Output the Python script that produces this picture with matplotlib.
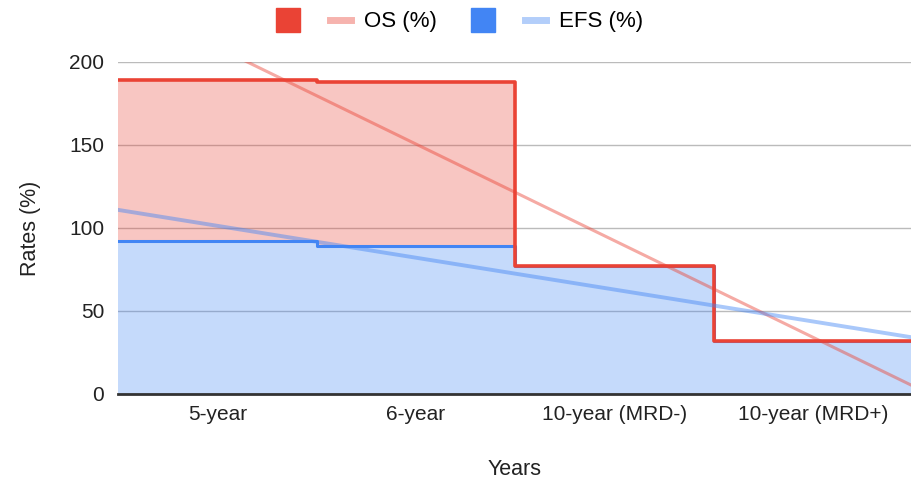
import numpy as np
import matplotlib.pyplot as plt
from matplotlib.lines import Line2D
from matplotlib.legend_handler import HandlerTuple

plt.rcParams['font.family'] = ['Liberation Sans', 'DejaVu Sans']

# data (stacked: EFS at bottom, OS on top)
categories = ['5-year', '6-year', '10-year (MRD-)', '10-year (MRD+)']
efs = [92, 89, 77, 32]
os_ = [97, 99, 0, 0]

RED = '#EA4335'
BLUE = '#4285F4'

x = np.arange(1, len(categories) + 1)
edges = np.append(x - 0.5, x[-1] + 0.5)
efs_arr = np.array(efs, dtype=float)
total = efs_arr + np.array(os_, dtype=float)

fig = plt.figure(figsize=(9.12, 4.84), dpi=100)
ax = fig.add_axes([0.1294, 0.186, 0.8706, 0.686])

# filled stepped areas
ax.stairs(efs_arr, edges, baseline=0, fill=True, color=BLUE, alpha=0.3, lw=0)
ax.stairs(total, edges, baseline=efs_arr, fill=True, color=RED, alpha=0.3, lw=0)

# step outlines
xs = np.append(edges[:-1], edges[-1])
ax.step(xs, np.append(efs_arr, efs_arr[-1]), where='post', color=BLUE, lw=2.2, zorder=3)
ax.step(xs, np.append(total, total[-1]), where='post', color=RED, lw=2.6, zorder=4)

# linear trendlines (fit over category positions)
xt = np.array([edges[0], edges[-1]])
p_os = np.polyfit(x, total, 1)
p_efs = np.polyfit(x, efs_arr, 1)
ax.plot(xt, np.polyval(p_os, xt), color=RED, alpha=0.45, lw=2.2, zorder=5)
ax.plot(xt, np.polyval(p_efs, xt), color=BLUE, alpha=0.45, lw=2.8, zorder=5)

ax.set_xlim(edges[0], edges[-1])
ax.set_ylim(0, 200)
ax.set_yticks([0, 50, 100, 150, 200])
ax.set_xticks(x)
ax.set_xticklabels(categories)
ax.tick_params(axis='both', length=0, labelsize=15, colors='#222222')
ax.tick_params(axis='y', pad=10)
ax.tick_params(axis='x', pad=8)
ax.grid(axis='y', color='#bbbbbb', lw=1)
ax.set_axisbelow(True)
for s in ['left', 'right', 'top']:
    ax.spines[s].set_visible(False)
ax.spines['bottom'].set_color('#333333')
ax.spines['bottom'].set_linewidth(2)
ax.spines['bottom'].set_zorder(6)

ax.set_xlabel('Years', fontsize=15.5, labelpad=25, color='#222222')
ax.set_ylabel('Rates (%)', fontsize=15.5, labelpad=20, color='#222222')

handles = [
    (Line2D([], [], marker='s', ls='none', color=RED, markersize=17),
     Line2D([], [], color=RED, alpha=0.4, lw=5)),
    (Line2D([], [], marker='s', ls='none', color=BLUE, markersize=17),
     Line2D([], [], color=BLUE, alpha=0.4, lw=5)),
]
fig.legend(handles, ['OS (%)', 'EFS (%)'], loc='center', bbox_to_anchor=(0.505, 0.955),
           ncol=2, frameon=False, fontsize=16, handlelength=3.3, columnspacing=1.6,
           handletextpad=0.6,
           handler_map={tuple: HandlerTuple(ndivide=None, pad=1.4)})

fig.savefig('out.png', dpi=100)
